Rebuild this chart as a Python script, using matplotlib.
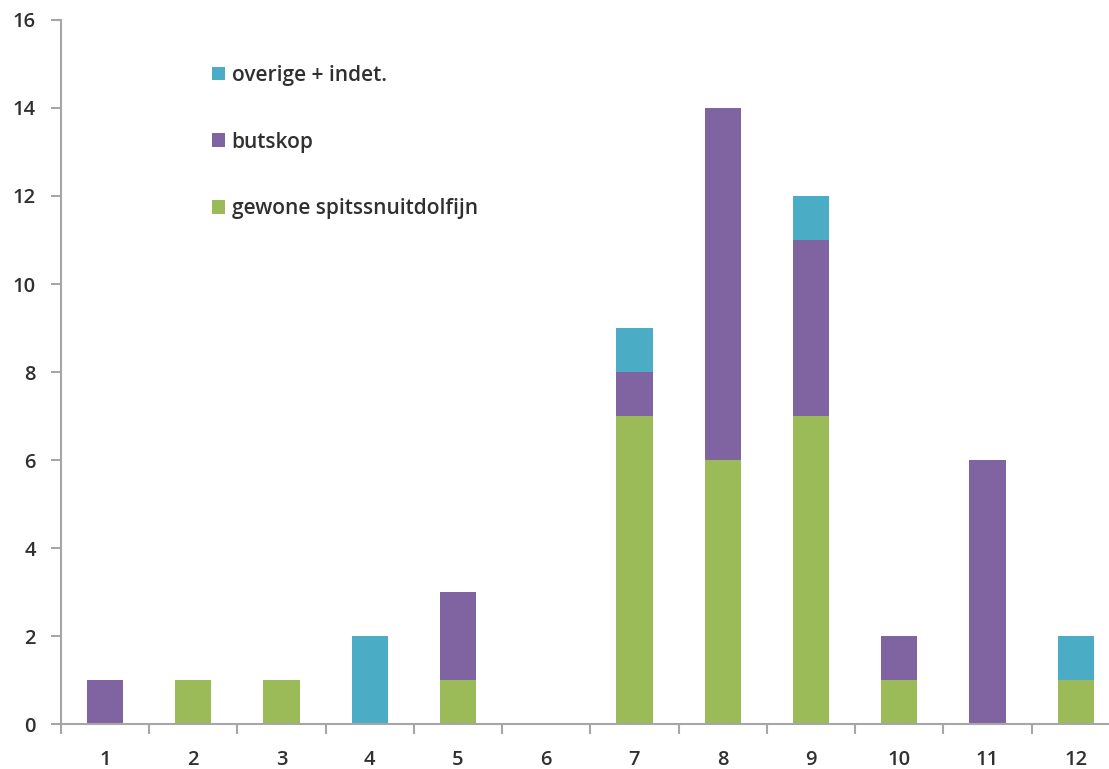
import matplotlib
matplotlib.use("Agg")
import matplotlib.pyplot as plt
import numpy as np

months = ["1", "2", "3", "4", "5", "6", "7", "8", "9", "10", "11", "12"]
gewone = [0, 1, 1, 0, 1, 0, 7, 6, 7, 1, 0, 1]
butskop = [1, 0, 0, 0, 2, 0, 1, 8, 4, 1, 6, 0]
overige = [0, 0, 0, 2, 0, 0, 1, 0, 1, 0, 0, 1]
labels = ["gewone spitssnuitdolfijn", "butskop", "overige + indet."]
colors = ["#9BBB59", "#8064A2", "#4BACC6"]

plt.rcParams['font.family'] = ['Open Sans', 'DejaVu Sans']

fig = plt.figure(figsize=(11.09, 7.69), dpi=100)
ax = fig.add_axes([0.0548, 0.0585, 0.955, 0.9155])

x = np.arange(len(months))
w = 0.41
g = np.array(gewone)
b = np.array(butskop)
o = np.array(overige)
h1 = ax.bar(x, g, w, color=colors[0], label=labels[0])
h2 = ax.bar(x, b, w, bottom=g, color=colors[1], label=labels[1])
h3 = ax.bar(x, o, w, bottom=g + b, color=colors[2], label=labels[2])

ax.set_xlim(-0.5, len(months) - 0.5)
ax.set_ylim(0, 16)
ax.set_yticks(range(0, 17, 2))
ax.set_xticks(x)
ax.set_xticklabels(months)
ax.set_xticks(np.arange(-0.5, len(months), 1), minor=True)
ax.tick_params(axis='x', which='major', length=0, pad=18.5, labelsize=14.5, labelcolor='#303030')
ax.tick_params(axis='x', which='minor', length=7, color='#A6A6A6', width=1.5, direction='out')
ax.tick_params(axis='y', length=7, color='#A6A6A6', width=1.5, pad=11, labelsize=14.5, labelcolor='#303030')
for lab in ax.get_xticklabels() + ax.get_yticklabels():
    lab.set_fontweight('semibold')

for s in ['top', 'right']:
    ax.spines[s].set_visible(False)
for s in ['left', 'bottom']:
    ax.spines[s].set_color('#A6A6A6')
    ax.spines[s].set_linewidth(1.5)

leg = ax.legend(handles=[h3, h2, h1], labels=[labels[2], labels[1], labels[0]],
                loc='upper left', bbox_to_anchor=(0.125, 0.963), frameon=False,
                fontsize=15, labelspacing=2.2, handlelength=0.65, handleheight=0.65,
                handletextpad=0.3, labelcolor='#303030')
for t in leg.get_texts():
    t.set_fontweight('semibold')

fig.savefig("out.png", dpi=100)
